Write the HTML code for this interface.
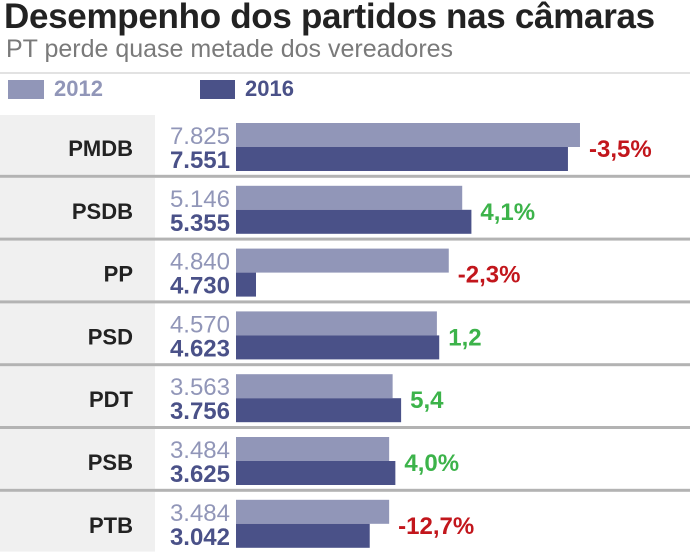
<!DOCTYPE html>
<html><head><meta charset="utf-8"><style>
body{margin:0;width:690px;height:554px;background:#fff;overflow:hidden;font-family:"Liberation Sans",sans-serif;position:relative}
.t{position:absolute;white-space:nowrap}
</style></head><body>
<div class="t" style="left:4px;top:-3px;font-size:35px;font-weight:bold;color:#222;letter-spacing:-0.3px">Desempenho dos partidos nas câmaras</div>
<div class="t" style="left:6px;top:35px;font-size:25px;color:#7a7a7a">PT perde quase metade dos vereadores</div>
<div style="position:absolute;left:0;top:72px;width:690px;height:2px;background:#e2e2e2"></div>
<div style="position:absolute;left:8px;top:80px;width:36px;height:19px;background:#9196b8"></div>
<div class="t" style="left:54px;top:76px;font-size:22px;font-weight:bold;color:#9196b8">2012</div>
<div style="position:absolute;left:200px;top:80px;width:35px;height:19px;background:#4a5188"></div>
<div class="t" style="left:245px;top:76px;font-size:22px;font-weight:bold;color:#4a5188">2016</div>
<svg id="c" width="690" height="554" style="position:absolute;left:0;top:0"></svg>
<script>
const parties=["PMDB","PSDB","PP","PSD","PDT","PSB","PTB"];
const values2012=[7825,5146,4840,4570,3563,3484,3484];
const values2016=[7551,5355,455,4623,3756,3625,3042];
const labels2012=["7.825","5.146","4.840","4.570","3.563","3.484","3.484"];
const labels2016=["7.551","5.355","4.730","4.623","3.756","3.625","3.042"];
const changes=["-3,5%","4,1%","-2,3%","1,2","5,4","4,0%","-12,7%"];
const ns="http://www.w3.org/2000/svg",svg=document.getElementById('c');
const x0=236,k=0.04396,top0=115,pitch=62.8;
const xs=v=>v*k;
function mk(t,a){const e=document.createElementNS(ns,t);for(const n in a)e.setAttribute(n,a[n]);svg.appendChild(e);return e;}
parties.forEach((p,i)=>{
 const y=top0+i*pitch;
 const bg=mk('rect',{x:0,y:y,width:155,height:pitch-3,fill:'#f0f0f0'});
 
 
 if(i>0){const s=mk('rect',{x:0,y:y-3,width:690,height:3,fill:'#b3b3b3'});
  
  }
 const by=y+8;
 const b1=mk('rect',{x:x0,y:by,width:xs(values2012[i]),height:24,fill:'#9196b8'});
 
 
 const b2=mk('rect',{x:x0,y:by+24,width:xs(values2016[i]),height:24,fill:'#4a5188'});
 
 
 const pl=mk('text',{x:133,y:by+33,'text-anchor':'end','font-size':22,'font-weight':'bold',fill:'#222'});pl.textContent=p;
 
 
 const l1=mk('text',{x:230,y:by+21,'text-anchor':'end','font-size':24,fill:'#9196b8'});l1.textContent=labels2012[i];
 
 
 const l2=mk('text',{x:230,y:by+45,'text-anchor':'end','font-size':24,'font-weight':'bold',fill:'#4a5188'});l2.textContent=labels2016[i];
 
 
 const neg=changes[i].startsWith('-');
 const cx=x0+Math.max(xs(values2012[i]),xs(values2016[i]))+9;
 const c=mk('text',{x:cx,y:by+34,'font-size':24,'font-weight':'bold',fill:neg?'#c2161c':'#3cb34a'});c.textContent=changes[i];
 
 
});
</script>
</body></html>
